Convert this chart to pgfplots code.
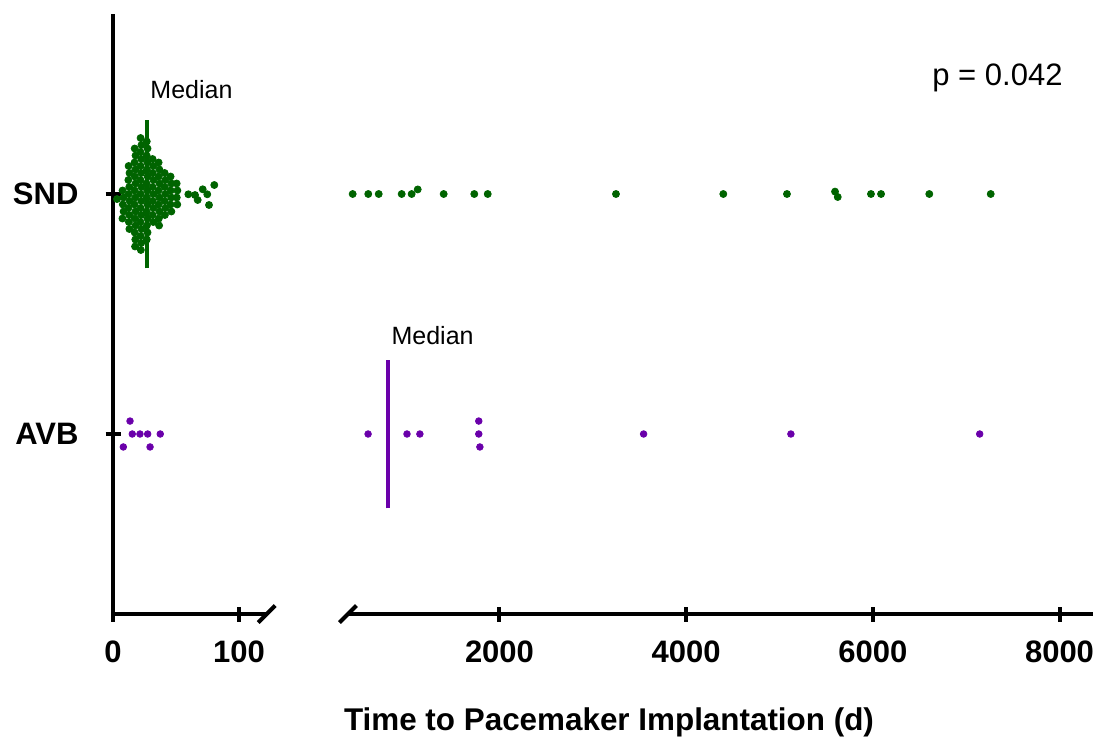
\documentclass[border=0pt]{standalone}
\usepackage{fontspec}
\setmainfont{Liberation Sans}
\usepackage{pgfplots}
\pgfplotsset{compat=1.18}
\definecolor{sndgreen}{RGB}{0,100,0}
\definecolor{avbpurple}{RGB}{106,0,170}
\pgfplotsset{
  brk/.style={
    scale only axis, height=300pt, ymin=0.25, ymax=2.75,
    anchor=south west, clip=false,
    tick align=outside, major tick length=7.5pt,
    tick style={black, line width=2pt},
    tick label style={font=\fontsize{15.5}{18}\selectfont\bfseries},
    xticklabel style={yshift=-6pt},
    yticklabel style={xshift=-10pt},
  },
  noarrows/.style={
    every outer x axis line/.append style={-},
    every inner x axis line/.append style={-},
    every outer y axis line/.append style={-},
    every inner y axis line/.append style={-},
    x axis line style={-}, y axis line style={-},
    axis line style={-, line width=2.2pt},
  }
}
\begin{document}
\begin{tikzpicture}
\path[use as bounding box] (0,0) rectangle (547.5pt,-369pt);
% ---------------- left segment ----------------
\begin{axis}[brk, at={(56.5pt,-307pt)}, width=76.86pt,
  xmin=0, xmax=122, axis x line=bottom, axis y line=left, noarrows,
  xtick={0,100}, xticklabels={0,100},
  ytick={1,2}, yticklabels={AVB,SND}]
\addplot[only marks, mark=*, mark size=1.75pt, sndgreen] coordinates {
(3.2,1.979)
(7.6,2.0146) (8.3,1.9854) (7.8,1.9563) (8.4,1.9271) (7.5,1.8979)
(12.4,2.1167) (13.1,2.0875) (12.2,2.0583) (12.9,2.0292) (12.5,2.0) (13.2,1.9708) (12.3,1.9417) (12.9,1.9125) (12.6,1.8833) (13.0,1.8542)
(17.2,2.1896) (17.9,2.1604) (17.1,2.1313) (17.8,2.1021) (17.3,2.0729) (17.9,2.0438) (17.2,2.0146) (17.7,1.9854) (17.1,1.9563) (17.8,1.9271) (17.4,1.8979) (17.9,1.8688) (17.2,1.8396) (17.7,1.8104) (17.5,1.7813)
(21.9,2.2333) (22.6,2.2042) (21.8,2.175) (22.5,2.1458) (21.9,2.1167) (22.4,2.0875) (21.8,2.0583) (22.6,2.0292) (22.0,2.0) (22.5,1.9708) (21.9,1.9417) (22.4,1.9125) (21.8,1.8833) (22.6,1.8542) (22.0,1.825) (22.4,1.7958) (22.1,1.7667)
(26.8,2.2188) (27.4,2.1896) (26.7,2.1604) (27.3,2.1313) (26.9,2.1021) (27.5,2.0729) (26.6,2.0438) (27.2,2.0146) (26.8,1.9854) (27.4,1.9563) (26.7,1.9271) (27.3,1.8979) (26.9,1.8688) (27.4,1.8396) (26.8,1.8104)
(31.4,2.1458) (32.0,2.1167) (31.5,2.0875) (32.1,2.0583) (31.4,2.0292) (31.9,2.0) (31.5,1.9708) (32.0,1.9417) (31.4,1.9125) (31.9,1.8833)
(36.2,2.1313) (36.8,2.1021) (36.3,2.0729) (36.9,2.0438) (36.2,2.0146) (36.7,1.9854) (36.3,1.9563) (36.8,1.9271) (36.4,1.8979) (36.6,1.8688)
(41.0,2.0875) (41.6,2.0583) (41.1,2.0292) (41.5,2.0) (41.0,1.9708) (41.6,1.9417) (41.2,1.9125)
(45.7,2.0729) (46.3,2.0438) (45.8,2.0146) (46.2,1.9854) (45.7,1.9563) (46.3,1.9271)
(50.5,2.0438) (51.1,2.0146) (50.6,1.9854) (51.0,1.9563)
(59.8,1.9988) (65.1,1.9958) (67.2,1.975) (71.2,2.0196) (74.8,1.9988) (76.2,1.9542) (80.4,2.0375)
};
\addplot[only marks, mark=*, mark size=1.65pt, avbpurple] coordinates {
(13.5,1.054) (15.3,1) (21.4,1) (27.5,1) (37.5,1) (8.2,0.946) (29.4,0.946)
};
\addplot[sndgreen, line width=2pt] coordinates {(27,1.69) (27,2.31)};
\node[anchor=base west, inner sep=0, font=\fontsize{12.5}{15}\selectfont] at (axis cs:29.4,2.4) {Median};
\draw[line width=2pt] (rel axis cs:1,0) ++(-4.25pt,-4.25pt) -- ++(8.5pt,8.5pt);
\end{axis}
% ---------------- right segment ----------------
\begin{axis}[brk, at={(174pt,-307pt)}, width=372.5pt,
  xmin=377, xmax=8359, axis x line=bottom, axis y line=none, noarrows,
  xtick={2000,4000,6000,8000}, xticklabels={2000,4000,6000,8000},
  ytick=\empty]
\addplot[only marks, mark=*, mark size=1.75pt, sndgreen] coordinates {
(427,2) (594,2) (706,2) (952,2) (1059,2) (1124,2.019) (1402,2) (1730,2) (1874,2)
(3248,2) (4398,2) (5080,2) (5595,2.010) (5624,1.9875) (5980,2) (6088,2) (6605,2) (7263,2)
};
\addplot[only marks, mark=*, mark size=1.65pt, avbpurple] coordinates {
(592,1) (1009,1) (1147,1) (1778,1.054) (1778,1) (1790,0.946) (3544,1) (5122,1) (7145,1)
};
\addplot[avbpurple, line width=2pt] coordinates {(803,0.69) (803,1.31)};
\node[anchor=base west, inner sep=0, font=\fontsize{12.5}{15}\selectfont] at (axis cs:840,1.371) {Median};
\node[anchor=base west, inner sep=0, font=\fontsize{15.5}{18}\selectfont] at (axis cs:6634,2.454) {p = 0.042};
\draw[line width=2pt] (rel axis cs:0,0) ++(-4.25pt,-4.25pt) -- ++(8.5pt,8.5pt);
\end{axis}
\node[font=\fontsize{15.7}{18}\selectfont\bfseries] at (304.5pt,-361pt) {Time to Pacemaker Implantation (d)};
\end{tikzpicture}
\end{document}
